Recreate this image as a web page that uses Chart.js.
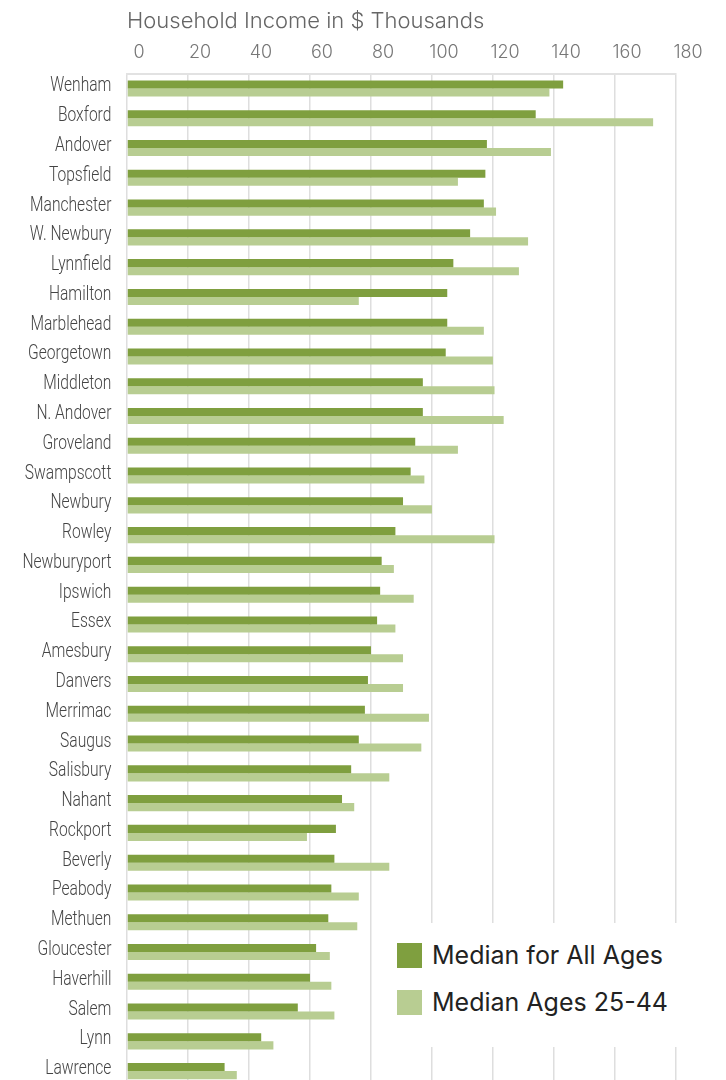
<!DOCTYPE html>
<html>
<head>
<meta charset="utf-8">
<title>Household Income</title>
<script src="https://cdn.jsdelivr.net/npm/chart.js@4.4.1/dist/chart.umd.min.js"></script>
<style>
  html, body { margin: 0; padding: 0; background: #fff; height: 1080px; overflow: hidden; }
  #wrap { position: relative; width: 726px; height: 1086px; }
  #legend {
    position: absolute; left: 375px; top: 923px; width: 308px; height: 124px;
    background: #fff; font-family: Inter, 'Noto Sans', sans-serif; font-size: 25px; color: #222;
  }
  #legend .item { position: absolute; left: 22px; height: 25px; line-height: 25px; white-space: nowrap; }
  #legend .box { display: inline-block; width: 25px; height: 25px; vertical-align: top; margin-right: 10px; }
</style>
</head>
<body>
<div id="wrap">
  <canvas id="myChart"></canvas>
  <div id="legend"></div>
</div>
<script>
let towns = ['Wenham', 'Boxford', 'Andover', 'Topsfield', 'Manchester', 'W. Newbury', 'Lynnfield',
  'Hamilton', 'Marblehead', 'Georgetown', 'Middleton', 'N. Andover', 'Groveland', 'Swampscott',
  'Newbury', 'Rowley', 'Newburyport', 'Ipswich', 'Essex', 'Amesbury', 'Danvers', 'Merrimac',
  'Saugus', 'Salisbury', 'Nahant', 'Rockport', 'Beverly', 'Peabody', 'Methuen', 'Gloucester',
  'Haverhill', 'Salem', 'Lynn', 'Lawrence']

let allAges = [143, 134, 118, 117.5, 117, 112.5, 107, 105, 105, 104.5, 97, 97, 94.5, 93,
  90.5, 88, 83.5, 83, 82, 80, 79, 78, 76, 73.5, 70.5, 68.5, 68, 67, 66, 62,
  60, 56, 44, 32]

let ages25to44 = [138.5, 172.5, 139, 108.5, 121, 131.5, 128.5, 76, 117, 120, 120.5, 123.5, 108.5, 97.5,
  100, 120.5, 87.5, 94, 88, 90.5, 90.5, 99, 96.5, 86, 74.5, 59, 86, 76, 75.5, 66.5,
  67, 68, 48, 36]

let xTicks = [0, 20, 40, 60, 80, 100, 120, 140, 160, 180]

// town names are set in a narrow face in the original, squeeze them sideways
function narrowLabels (area) {
  var ctx = this.ctx
  ctx.save()
  ctx.translate(this.right, 0)
  ctx.scale(0.78, 1)
  ctx.translate(-this.right, 0)
  Object.getPrototypeOf(this).drawLabels.call(this, area)
  ctx.restore()
}

let data = {
  labels: towns,
  datasets: [
    {
      label: 'Median for All Ages',
      data: allAges,
      backgroundColor: '#7f9f3f'
    },
    {
      label: 'Median Ages 25-44',
      data: ages25to44,
      backgroundColor: '#b8cd92'
    }
  ]
}

let config = {
  type: 'bar',
  data: data,
  options: {
    indexAxis: 'y',
    responsive: true,
    maintainAspectRatio: false,
    animation: false,
    layout: { padding: { top: 10, right: 50, bottom: 0, left: 0 } },
    datasets: {
      bar: { categoryPercentage: 0.54, barPercentage: 1.0, borderWidth: 0 }
    },
    scales: {
      x: {
        position: 'top',
        min: xTicks[0],
        max: xTicks[xTicks.length - 1],
        afterBuildTicks: function (scale) {
          scale.ticks = xTicks.map(v => ({ value: v }))
        },
        grid: { color: '#dedede', lineWidth: 1.5, drawTicks: false },
        border: { display: true, color: '#e2e2e2', width: 2 },
        ticks: {
          color: '#777',
          padding: 10,
          labelOffset: 12,
          font: { family: 'Inter, "Noto Sans", sans-serif', size: 18, weight: '300' }
        },
        title: {
          display: true,
          text: 'Household Income in $ Thousands',
          align: 'start',
          color: '#666',
          padding: { top: 0, bottom: 0 },
          font: { family: 'Inter, "Noto Sans", sans-serif', size: 22, weight: '300', lineHeight: 1 }
        }
      },
      y: {
        afterFit: function (scale) {
          scale.width = 127
          scale.paddingTop = 0
          scale.paddingBottom = 0
          scale.drawLabels = narrowLabels
          scale._computeLabelArea = function () {}
        },
        grid: { display: false, drawTicks: false },
        border: { display: false },
        ticks: {
          color: '#444',
          padding: 20,
          labelOffset: -2,
          font: { family: 'Roboto, sans-serif', size: 20, weight: '300' }
        }
      }
    },
    plugins: {
      legend: { display: false },
      tooltip: { enabled: false }
    }
  }
}

var myChart = new Chart(document.getElementById('myChart'), config)

// legend box sits over the lower right of the plot
var legendHtml = ''
myChart.data.datasets.forEach(function (ds, i) {
  legendHtml += '<div class="item" style="top:' + (20 + i * 47) + 'px">' +
    '<span class="box" style="background:' + ds.backgroundColor + '"></span>' + ds.label + '</div>'
})
document.getElementById('legend').innerHTML = legendHtml
</script>
</body>
</html>
